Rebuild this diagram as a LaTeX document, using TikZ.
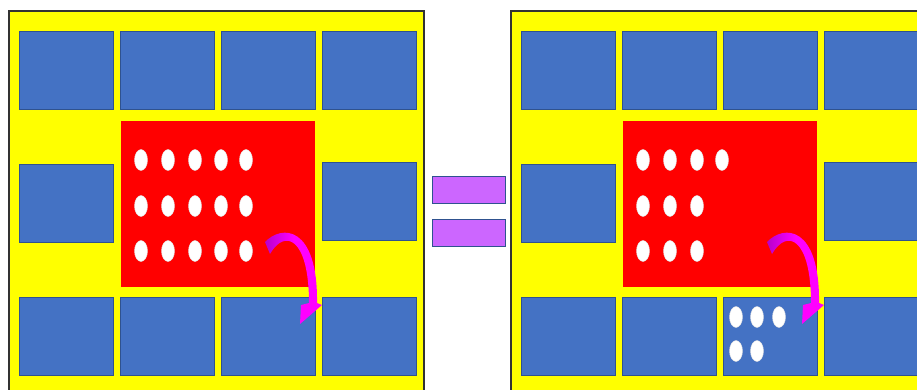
\documentclass[tikz,border=0pt]{standalone}
\usetikzlibrary{arrows.meta,shapes.geometric}
\definecolor{pyellow}{HTML}{FFFF00}
\definecolor{pblue}{HTML}{4472C4}
\definecolor{pblueedge}{HTML}{2F528F}
\definecolor{pred}{HTML}{FF0000}
\definecolor{ppurple}{HTML}{CC66FF}
\definecolor{pmag}{HTML}{FF00FF}
\definecolor{pmagdark}{HTML}{B800CC}
\definecolor{pframe}{HTML}{333333}
\tikzset{
  panel/.style={draw=pframe, line width=1.3pt, fill=pyellow},
  bbox/.style={draw=pblueedge, line width=0.8pt, fill=pblue, anchor=north west, inner sep=0pt, minimum width=94pt, minimum height=78pt},
  redbox/.style={fill=pred, anchor=north west, inner sep=0pt, minimum width=194pt, minimum height=166pt},
  dot/.style={ellipse, fill=white, draw=black!12, line width=0.4pt, minimum width=13pt, minimum height=21pt, inner sep=0pt},
  eqbar/.style={draw=pblueedge, line width=1.4pt, fill=ppurple, anchor=north west, inner sep=0pt, minimum width=73pt, minimum height=27pt},
  movearrow/.style={left color=pmagdark, right color=pmag, middle color=pmag}
}
\newcommand{\movearrowpath}{%
  \shade[movearrow] (265,242) .. controls (282,224) and (318,226) .. (317,303)
    -- (322,305) -- (300,324) -- (301,305) -- (309,303)
    .. controls (309,238) and (285,228) .. (270,254) -- cycle;}
\begin{document}
\begin{tikzpicture}[x=1pt,y=-1pt]
\useasboundingbox (0,0) rectangle (917,390);
\begin{scope}
\clip (0,0) rectangle (917,390);
% panels
\path[panel] (9,11) rectangle (424,400);
\path[panel] (511,11) rectangle (930,400);
% left panel boxes
\node[bbox] (LA1) at (19,31) {};
\node[bbox] (LA2) at (120,31) {};
\node[bbox] (LA3) at (221,31) {};
\node[bbox] (LA4) at (322,31) {};
\node[bbox] (LB1) at (19,164) {};
\node[bbox] (LB4) at (322,162) {};
\node[bbox] (LC1) at (19,297) {};
\node[bbox] (LC2) at (120,297) {};
\node[bbox] (LC3) at (221,297) {};
\node[bbox] (LC4) at (322,297) {};
\node[redbox] (LR) at (121,121) {};
% left dots
\foreach \yy [count=\r] in {160,206,251}{
  \foreach \xx [count=\c] in {141,168,195,221,246}{
    \node[dot] (Ld\r\c) at (\xx,\yy) {};
  }
}
% right panel boxes
\node[bbox] (RA1) at (521,31) {};
\node[bbox] (RA2) at (622,31) {};
\node[bbox] (RA3) at (723,31) {};
\node[bbox] (RA4) at (824,31) {};
\node[bbox] (RB1) at (521,164) {};
\node[bbox] (RB4) at (824,162) {};
\node[bbox] (RC1) at (521,297) {};
\node[bbox] (RC2) at (622,297) {};
\node[bbox] (RC3) at (723,297) {};
\node[bbox] (RC4) at (824,297) {};
\node[redbox] (RR) at (623,121) {};
% right dots
\foreach \xx [count=\c] in {643,670,697,722}{\node[dot] (Rd1\c) at (\xx,160) {};}
\foreach \xx [count=\c] in {643,670,697}{\node[dot] (Rd2\c) at (\xx,206) {};}
\foreach \xx [count=\c] in {643,670,697}{\node[dot] (Rd3\c) at (\xx,251) {};}
\foreach \xx [count=\c] in {736,757,779}{\node[dot] (Re1\c) at (\xx,317) {};}
\foreach \xx [count=\c] in {736,757}{\node[dot] (Re2\c) at (\xx,351) {};}
% equals sign
\node[eqbar] (EQ1) at (432,176) {};
\node[eqbar] (EQ2) at (432,219) {};
% arrows
\movearrowpath
\begin{scope}[xshift=502pt]
\movearrowpath
\end{scope}
\end{scope}
\end{tikzpicture}
\end{document}
